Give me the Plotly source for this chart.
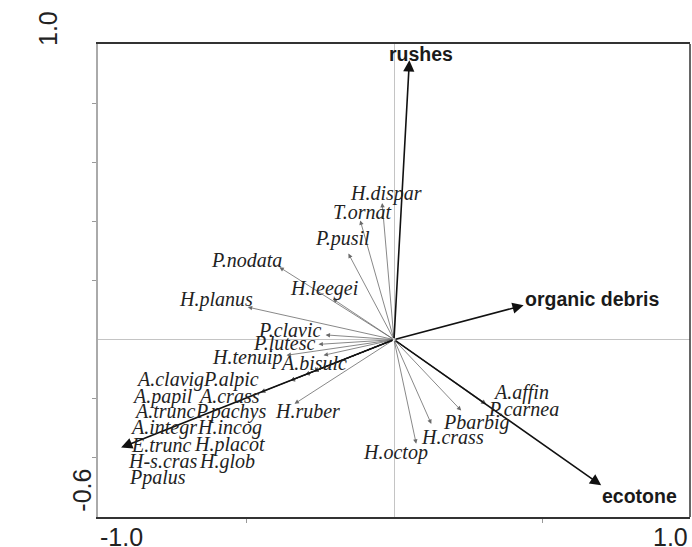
import plotly.graph_objects as go

# ---------------- data (ordination scores) ----------------
species = ["H.dispar", "T.ornat", "P.pusil", "P.nodata", "H.leegei", "H.planus",
           "P.clavic", "P.lutesc", "H.tenuip", "A.bisulc", "H.ruber",
           "A.clavig", "P.alpic", "A.papil", "A.crass", "A.trunc", "P.pachys",
           "A.integr", "H.incog", "E.trunc", "H.placot", "H-s.cras", "H.glob", "Ppalus",
           "H.octop", "H.crass", "Pbarbig", "A.affin", "P.carnea"]
species_x = [-0.040, -0.114, -0.154, -0.387, -0.207, -0.494,
             -0.231, -0.255, -0.363, -0.238, -0.336,
             -0.35, -0.30, -0.27, -0.35, -0.27, -0.30,
             -0.45, -0.35, -0.27, -0.30, -0.35, -0.45, -0.27,
             0.075, 0.126, 0.227, 0.311, 0.309]
species_y = [0.462, 0.403, 0.291, 0.245, 0.138, 0.110,
             0.016, -0.016, -0.053, -0.053, -0.217,
             -0.139, -0.119, -0.107, -0.139, -0.107, -0.119,
             -0.178, -0.139, -0.107, -0.119, -0.139, -0.178, -0.107,
             -0.352, -0.285, -0.240, -0.217, -0.219]

env_vars = ["rushes", "organic debris", "ecotone", "submergent<br>plants"]
env_x = [0.052, 0.438, 0.700, -0.922]
env_y = [0.945, 0.116, -0.493, -0.365]

x_range = [-1.0, 1.0]
y_range = [-0.6, 1.0]

# ---------------- layout: label placement ----------------
species_label_x = [-0.026, -0.107, -0.173, -0.499, -0.236, -0.603,
                   -0.352, -0.373, -0.497, -0.273, -0.291,
                   -0.758, -0.550, -0.782, -0.558, -0.773, -0.552,
                   -0.779, -0.557, -0.784, -0.556, -0.780, -0.563, -0.800,
                   0.005, 0.199, 0.278, 0.428, 0.438]
species_label_y = [0.494, 0.431, 0.341, 0.271, 0.174, 0.136,
                   0.034, -0.012, -0.059, -0.078, -0.243,
                   -0.135, -0.135, -0.191, -0.191, -0.243, -0.243,
                   -0.296, -0.296, -0.356, -0.356, -0.412, -0.412, -0.465,
                   -0.382, -0.328, -0.279, -0.178, -0.236]
env_label_x = [0.091, 0.669, 0.830, -1.299]
env_label_y = [0.965, 0.136, -0.530, -0.366]
env_label_anchor = ["center", "center", "center", "left"]

fig = go.Figure()
# invisible trace to establish axes
fig.add_trace(go.Scatter(x=species_x, y=species_y, mode="markers",
                         marker=dict(size=1, opacity=0), hoverinfo="skip",
                         showlegend=False))

annotations = []
# species arrows
for sx, sy in zip(species_x, species_y):
    annotations.append(dict(x=sx, y=sy, ax=0, ay=0, xref="x", yref="y",
                            axref="x", ayref="y", text="", showarrow=True,
                            arrowhead=2, arrowsize=1.1, arrowwidth=0.8,
                            arrowcolor="#6a6a6a", standoff=0, startstandoff=0))
# environmental arrows
for ex, ey in zip(env_x, env_y):
    annotations.append(dict(x=ex, y=ey, ax=0, ay=0, xref="x", yref="y",
                            axref="x", ayref="y", text="", showarrow=True,
                            arrowhead=2, arrowsize=1.4, arrowwidth=1.6,
                            arrowcolor="#111111", standoff=0, startstandoff=0))
# species labels
for name, lx, ly in zip(species, species_label_x, species_label_y):
    annotations.append(dict(x=lx, y=ly, xref="x", yref="y", text=name,
                            showarrow=False, xanchor="center", yanchor="middle",
                            font=dict(family="Liberation Serif", size=20,
                                      color="#222222", style="italic")))
# environmental labels
for name, lx, ly, anc in zip(env_vars, env_label_x, env_label_y, env_label_anchor):
    annotations.append(dict(x=lx, y=ly, xref="x", yref="y", text="<b>%s</b>" % name,
                            showarrow=False, xanchor=anc, yanchor="middle",
                            align="left",
                            font=dict(family="Liberation Sans", size=19.5,
                                      color="#1a1a1a")))

# axis end labels
tick_font = dict(family="Liberation Sans", size=25, color="#222222")
annotations += [
    dict(x=0, y=0, xref="paper", yref="paper", text="-1.0", showarrow=False,
         xanchor="left", yanchor="middle", yshift=-20, font=tick_font),
    dict(x=1, y=0, xref="paper", yref="paper", text="1.0", showarrow=False,
         xanchor="right", yanchor="middle", yshift=-20, font=tick_font),
    dict(x=0, y=1, xref="paper", yref="paper", text="1.0", showarrow=False,
         xanchor="center", yanchor="middle", xshift=-50.5, yshift=15.5,
         textangle=-90, font=tick_font),
    dict(x=0, y=0, xref="paper", yref="paper", text="-0.6", showarrow=False,
         xanchor="center", yanchor="middle", xshift=-16.3, yshift=27,
         textangle=-90, font=tick_font),
]

fig.update_layout(
    width=692, height=547,
    margin=dict(l=98, r=2, t=44, b=30),
    paper_bgcolor="white", plot_bgcolor="white",
    showlegend=False,
    annotations=annotations,
    shapes=[dict(type="line", xref="paper", yref="paper", x0=1, x1=1, y0=0, y1=1,
                 line=dict(color="#333333", width=1.5))],
    xaxis=dict(range=x_range, showgrid=False, zeroline=True, zerolinecolor="#c4c4c4",
               zerolinewidth=1, showline=True, linecolor="#333333", linewidth=1.5,
               mirror=True, ticks="outside", ticklen=4, tickcolor="#999999",
               tickvals=[-0.5, 0.5], showticklabels=False, fixedrange=True),
    yaxis=dict(range=y_range, showgrid=False, zeroline=True, zerolinecolor="#c4c4c4",
               zerolinewidth=1, showline=True, linecolor="#aaaaaa", linewidth=1.5,
               mirror=False, ticks="outside", ticklen=4, tickcolor="#999999",
               tickvals=[-0.4, -0.2, 0.2, 0.4, 0.6, 0.8], showticklabels=False,
               fixedrange=True),
)

fig.write_html("out.html", config={"displayModeBar": False},
               post_script="document.body.style.margin='0';"
                           "document.body.style.overflow='hidden';")
